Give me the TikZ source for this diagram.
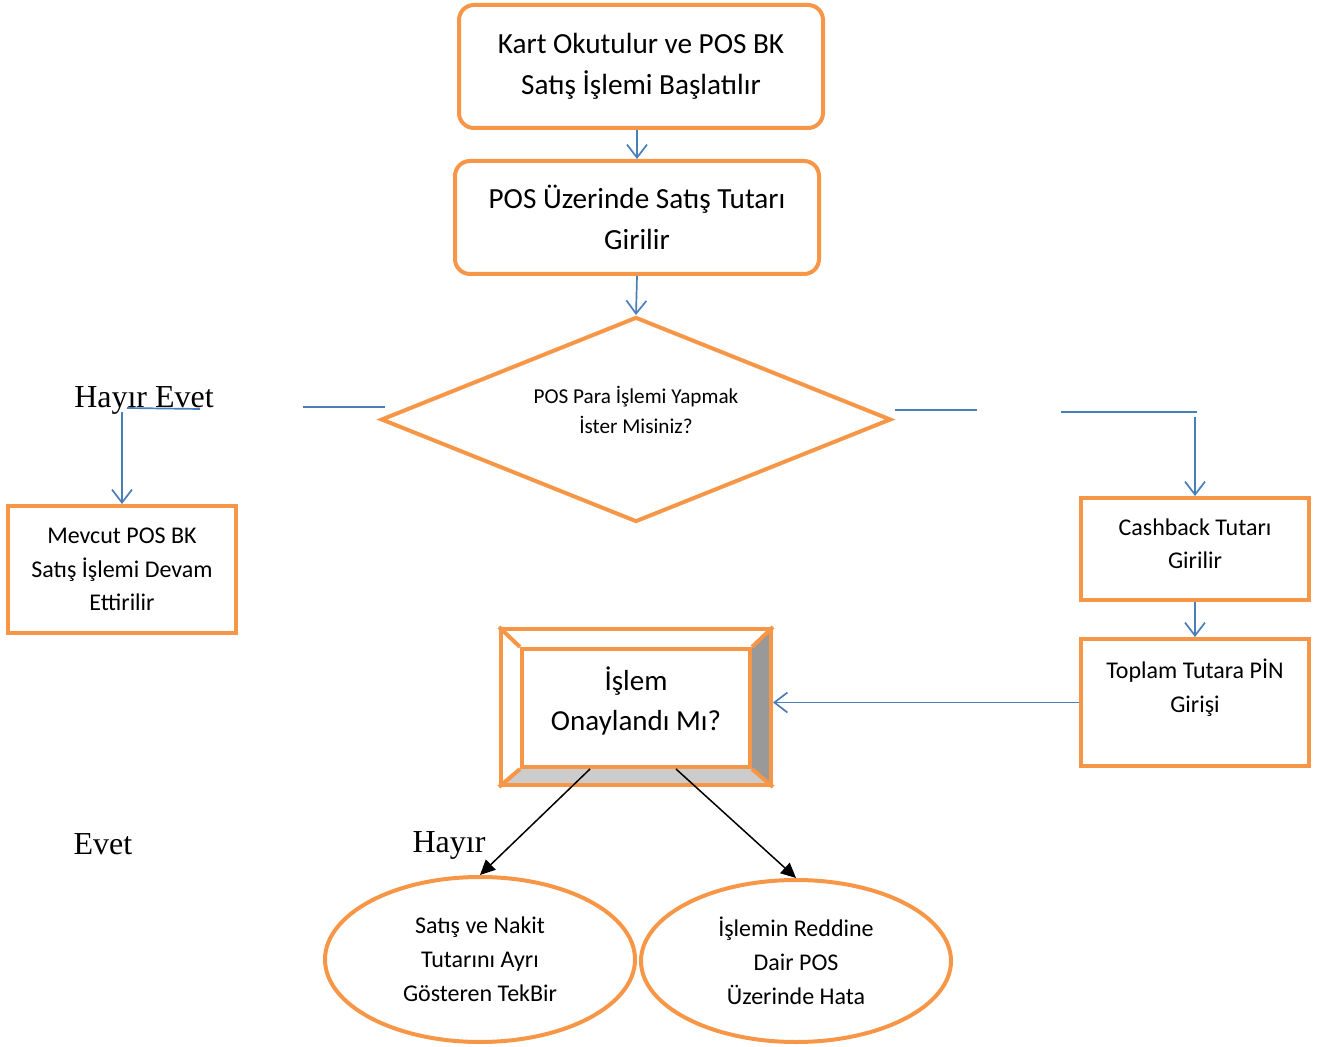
\documentclass[tikz,border=0pt]{standalone}
\usepackage{fontspec}
\setmainfont{Carlito}
\newfontfamily\timesfont{Liberation Serif}
\usetikzlibrary{shapes.geometric,arrows.meta}

\definecolor{boxorange}{HTML}{F79646}
\definecolor{linkblue}{HTML}{4A7EBB}

\begin{document}
\begin{tikzpicture}[x=0.5pt,y=-0.5pt,
  box_node/.style={draw=boxorange,line width=2pt,align=center,inner sep=0pt},
  round_node/.style={box_node,rounded corners=7.5pt,minimum width=182pt,font=\fontsize{14.6}{20.5}\selectfont},
  small_node/.style={box_node,minimum width=114pt,font=\fontsize{12}{16.75}\selectfont},
  end_node/.style={box_node,ellipse,minimum width=155pt,font=\fontsize{12}{17}\selectfont},
  blue_line/.style={draw=linkblue,line width=0.85pt},
  blue_arrow/.style={blue_line,-{Straight Barb[length=6.5pt,width=10pt]}},
  black_arrow/.style={line width=0.75pt,-{Triangle[length=7.5pt,width=7pt]}},
  answer/.style={font=\timesfont\fontsize{16}{19}\selectfont}]
    \useasboundingbox (0,0) rectangle (1322,1047);

    \node[round_node,minimum height=61.5pt] (kart) at (641,66.5) {Kart Okutulur ve POS BK\\Satış İşlemi Başlatılır};
    \node[round_node,minimum height=56.5pt] (tutar) at (637,217.5) {POS Üzerinde Satış Tutarı\\Girilir};
    \node[box_node,diamond,minimum width=255pt,minimum height=102.5pt,
      label={[name=sorutext,align=center,font=\fontsize{10.6}{15}\selectfont,yshift=5pt]center:POS Para İşlemi Yapmak\\İster Misiniz?}] (soru) at (636,419.5) {};
    \node[small_node,minimum height=63.5pt] (mevcut) at (122,569.5) {Mevcut POS BK\\Satış İşlemi Devam\\Ettirilir};
    \node[small_node,minimum height=51pt,
      label={[name=cashtext,align=center,font=\fontsize{12}{16.5}\selectfont,yshift=2.5pt]center:Cashback Tutarı\\Girilir}] (cashback) at (1195,549) {};
    \node[small_node,minimum height=63.5pt] (pin) at (1195,702.5) {Toplam Tutara PİN\\Girişi\\~};

    % bevelled box
    \fill[black!40] (771,629) -- (771,785) -- (750,767) -- (750,649) -- cycle;
    \fill[black!20] (501,785) -- (771,785) -- (750,767) -- (522,767) -- cycle;
    \node[box_node,minimum width=135pt,minimum height=78pt] (frame) at (636,707) {};
    \node[box_node,minimum width=114pt,minimum height=59pt,
      label={[name=onaytext,align=center,font=\fontsize{14.5}{20}\selectfont,yshift=3.5pt]center:İşlem\\Onaylandı Mı?}] (onay) at (636,708) {};
    \draw[boxorange,line width=2pt] (frame.north west) -- (onay.north west) (frame.north east) -- (onay.north east)
      (frame.south west) -- (onay.south west) (frame.south east) -- (onay.south east);

    \node[end_node,minimum height=82.5pt] (tekbir) at (480,959.5) {Satış ve Nakit\\Tutarını Ayrı\\Gösteren TekBir};
    \node[end_node,minimum height=81pt] (hata) at (796,961) {İşlemin Reddine\\Dair POS\\Üzerinde Hata};

    \node[answer] (hayirevet) at (144,400) {Hayır Evet};
    \node[answer] (evet) at (103,844) {Evet};
    \node[answer] (hayir) at (449,845) {Hayır};

    \coordinate (l1) at (303,407);
    \coordinate (l2) at (385,407);
    \coordinate (e1) at (127,408);
    \coordinate (e2) at (200,409);
    \coordinate (d1) at (122,412);
    \coordinate (r1) at (895,410);
    \coordinate (r2) at (977,410);
    \coordinate (r3) at (1061,412);
    \coordinate (r4) at (1197,412);
    \coordinate (d2) at (1195,417);

    \draw[blue_arrow] (kart.south -| tutar.north) -- (tutar.north);
    \draw[blue_arrow] (tutar.south) -- (soru.north);
    \draw[blue_line] (l1) -- (l2);
    \draw[blue_line] (e1) -- (e2);
    \draw[blue_arrow] (d1) -- (mevcut.north);
    \draw[blue_line] (r1) -- (r2);
    \draw[blue_line] (r3) -- (r4);
    \draw[blue_arrow] (d2) -- (cashback.north);
    \draw[blue_arrow] (cashback.south) -- (pin.north);
    \draw[blue_arrow] (pin.west) -- (pin.west -| frame.east);
    \draw[black_arrow] ([xshift=-23pt]onay.south) -- (tekbir.north);
    \draw[black_arrow] ([xshift=20pt]onay.south) -- (hata.north);
\end{tikzpicture}
\end{document}
